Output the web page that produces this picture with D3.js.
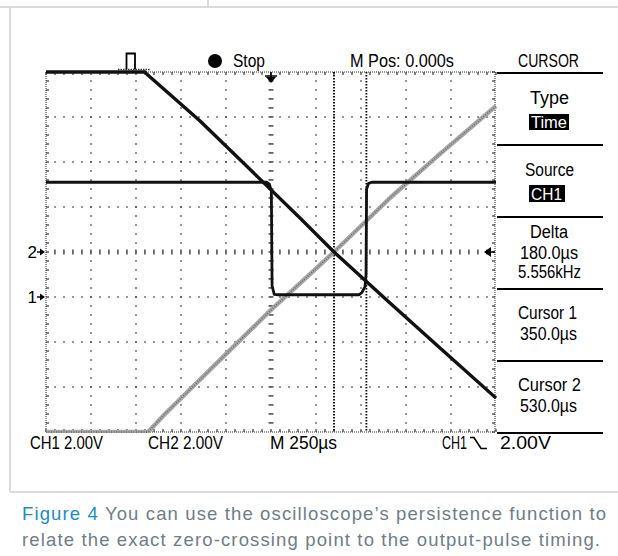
<!DOCTYPE html>
<html><head><meta charset="utf-8">
<script src="https://cdn.jsdelivr.net/npm/d3@7"></script>
<style>
html,body{margin:0;padding:0;background:#fff;}
svg{display:block;}
.scope{font-family:"Liberation Sans",Arial,Helvetica,sans-serif;}
.cap{font-family:"Liberation Sans",Arial,Helvetica,sans-serif;font-size:18.5px;}
</style></head><body>
<svg id="c" width="618" height="556"></svg>
<script>
// ---------------- data ----------------
// CH1: output pulse (volts, 2.00 V/div, ground at -1 div)
const ch1Time  = [-1250, -25, -8, 2, 6, 18, 40, 490, 505, 522, 528, 531, 542, 560, 1250];
const ch1Volts = [5.1, 5.1, 5.0, 4.7, 0.5, 0.12, 0.1, 0.1, 0.2, 0.45, 1.0, 4.8, 5.05, 5.1, 5.1];
// CH2: falling ramp (volts, 2.00 V/div, ground at 0 div)
const ch2FallTime  = [-1250, -700, -689, -394, -61, 161, 350, 661, 939, 1250];
const ch2FallVolts = [8.0, 8.0, 7.9, 5.82, 3.24, 1.51, 0.0, -2.27, -4.27, -6.49];
// CH2: rising ramp (persistence trace)
const ch2RiseTime  = [-1250, -690, -683, -589, -228, -6, 217, 350, 661, 939, 1250];
const ch2RiseVolts = [-8.0, -8.0, -8.0, -7.2, -4.36, -2.62, -0.98, 0.0, 2.4, 4.36, 6.49];
// cursors (µs) and trigger
const cursorTimes = [350, 530];
const triggerTime = 0, triggerLevel = 2.0;
// labels
const topLabels = ["Stop", "M Pos: 0.000s", "CURSOR"];
const menuLabels = ["Type", "Time", "Source", "CH1", "Delta", "180.0µs", "5.556kHz", "Cursor 1", "350.0µs", "Cursor 2", "530.0µs"];
const bottomLabels = ["CH1 2.00V", "CH2 2.00V", "M 250µs", "CH1", "2.00V"];
const captionLines = [
  ["Figure 4", " You can use the oscilloscope’s persistence function to"],
  ["", "relate the exact zero-crossing point to the output-pulse timing."]
];

// ---------------- scales ----------------
const X0 = 46, X1 = 496, Y0 = 72, Y1 = 432;
const xTime = d3.scaleLinear().domain([-1250, 1250]).range([X0, X1]);
const xDiv = d3.scaleLinear().domain([-5, 5]).range([X0, X1]);
const yDiv = d3.scaleLinear().domain([-4, 4]).range([Y1, Y0]);
const yCh1 = d3.scaleLinear().domain([-6, 10]).range([Y1, Y0]);
const yCh2 = d3.scaleLinear().domain([-8, 8]).range([Y1, Y0]);

const svg = d3.select("#c");

// ---------------- page frame ----------------
const frame = svg.append("g").attr("stroke", "#cfcfcf").attr("stroke-width", 1.5).attr("fill", "none");
frame.append("line").attr("x1", 0).attr("x2", 618).attr("y1", 7).attr("y2", 7);
frame.append("line").attr("x1", 208).attr("x2", 208).attr("y1", 0).attr("y2", 7);
frame.append("line").attr("x1", 10).attr("x2", 10).attr("y1", 7).attr("y2", 492);
frame.append("line").attr("x1", 10).attr("x2", 618).attr("y1", 492).attr("y2", 492);

// ---------------- graticule ----------------
const g = svg.append("g");
const minorX = d3.range(-25, 26).map(i => i / 5);
const minorY = d3.range(-20, 21).map(i => i / 5);
const dotCol = "#444";
[-3, -2, -1, 1, 2, 3].forEach(dv => {
  minorX.filter(m => m > -5 && m < 5).forEach(m => {
    g.append("rect").attr("x", xDiv(m) - 0.75).attr("y", yDiv(dv) - 0.75).attr("width", 1.5).attr("height", 1.5).attr("fill", dotCol);
  });
});
[-4, -3, -2, -1, 1, 2, 3, 4].forEach(dv => {
  minorY.filter(m => m > -4 && m < 4).forEach(m => {
    g.append("rect").attr("x", xDiv(dv) - 0.75).attr("y", yDiv(m) - 0.75).attr("width", 1.5).attr("height", 1.5).attr("fill", dotCol);
  });
});
minorX.filter(m => m > -5 && m < 5).forEach(m => {
  g.append("rect").attr("x", xDiv(m) - 1).attr("y", yDiv(0) - 2.5).attr("width", 1.8).attr("height", 5).attr("fill", "#666");
});
minorY.filter(m => m > -4 && m < 4).forEach(m => {
  g.append("rect").attr("x", xDiv(0) - 2.5).attr("y", yDiv(m) - 1).attr("width", 5).attr("height", 1.8).attr("fill", "#666");
});
const edge = g.append("g").attr("stroke", "#777").attr("stroke-width", 1.6).attr("stroke-dasharray", "1,1");
edge.append("line").attr("x1", X0).attr("x2", X1).attr("y1", Y0).attr("y2", Y0);
edge.append("line").attr("x1", X0).attr("x2", X1).attr("y1", Y1).attr("y2", Y1);
edge.append("line").attr("x1", X0).attr("x2", X0).attr("y1", Y0).attr("y2", Y1);
edge.append("line").attr("x1", X1 - 1).attr("x2", X1 - 1).attr("y1", Y0).attr("y2", Y1);
const tk = g.append("g").attr("stroke", "#333").attr("stroke-width", 1.2);
minorX.forEach(m => {
  tk.append("line").attr("x1", xDiv(m)).attr("x2", xDiv(m)).attr("y1", Y0).attr("y2", Y0 + 3);
  tk.append("line").attr("x1", xDiv(m)).attr("x2", xDiv(m)).attr("y1", Y1).attr("y2", Y1 - 3);
});
minorY.forEach(m => {
  tk.append("line").attr("x1", X0).attr("x2", X0 + 3).attr("y1", yDiv(m)).attr("y2", yDiv(m));
  tk.append("line").attr("x1", X1 - 1).attr("x2", X1 - 4).attr("y1", yDiv(m)).attr("y2", yDiv(m));
});

// ---------------- cursors ----------------
cursorTimes.forEach(t => {
  svg.append("line").attr("x1", xTime(t)).attr("x2", xTime(t)).attr("y1", Y0).attr("y2", Y1)
    .attr("stroke", "#000").attr("stroke-width", 1.8).attr("stroke-dasharray", "1.5,1.5");
});

// ---------------- traces ----------------
svg.append("clipPath").attr("id", "scr").append("rect").attr("x", X0 - 2).attr("y", Y0 - 2).attr("width", X1 - X0 + 3).attr("height", Y1 - Y0 + 3);
const tr = svg.append("g").attr("clip-path", "url(#scr)");
const clampV = (v, lo, hi) => Math.max(lo, Math.min(hi, v));
const lineOf = (ys, lo, hi) => d3.line().x(d => xTime(d[0])).y(d => ys(clampV(d[1], lo, hi))).curve(d3.curveLinear);
const rise = d3.zip(ch2RiseTime, ch2RiseVolts);
const fall = d3.zip(ch2FallTime, ch2FallVolts);
const pulse = d3.zip(ch1Time, ch1Volts);
tr.append("path").attr("d", lineOf(yCh2, -8, 8)(rise)).attr("fill", "none").attr("stroke", "#a8a8a8").attr("stroke-width", 4.5).attr("stroke-linejoin", "round");
tr.append("path").attr("d", lineOf(yCh2, -8, 8)(rise)).attr("fill", "none").attr("stroke", "#666").attr("stroke-width", 1.5).attr("stroke-dasharray", "1,1.5");
tr.append("path").attr("d", lineOf(yCh2, -8, 8)(fall)).attr("fill", "none").attr("stroke", "#111").attr("stroke-width", 3.4).attr("stroke-linejoin", "round");
tr.append("path").attr("d", lineOf(yCh1, -6, 10)(pulse))
  .attr("fill", "none").attr("stroke", "#111").attr("stroke-width", 2.8).attr("stroke-linejoin", "round");

// ---------------- markers ----------------
const tx = xTime(triggerTime);
svg.append("line").attr("x1", tx - 6).attr("x2", tx + 6).attr("y1", Y0 + 4).attr("y2", Y0 + 4).attr("stroke", "#000").attr("stroke-width", 1.5);
svg.append("path").attr("d", `M${tx - 5},${Y0 + 5}L${tx + 5},${Y0 + 5}L${tx},${Y0 + 11}Z`).attr("fill", "#000");
svg.append("line").attr("x1", tx).attr("x2", tx).attr("y1", Y0).attr("y2", Y0 + 5).attr("stroke", "#000").attr("stroke-width", 1.5);
const ty = yCh1(triggerLevel);
svg.append("path").attr("d", `M${X1 - 12},${ty}L${X1 - 5},${ty - 5}L${X1 - 5},${ty + 5}Z`).attr("fill", "#000");
svg.append("line").attr("x1", X1 - 6).attr("x2", X1 - 1).attr("y1", ty).attr("y2", ty).attr("stroke", "#000").attr("stroke-width", 1.5);
[["2", yCh2(0)], ["1", yCh1(0)]].forEach(([lab, y]) => {
  svg.append("text").attr("class", "scope").attr("x", 37).attr("y", y + 6).attr("text-anchor", "end").attr("font-size", 17).attr("fill", "#000").text(lab);
  svg.append("path").attr("d", `M${X0 - 1},${y}L${X0 - 6},${y - 3.5}L${X0 - 6},${y + 3.5}Z`).attr("fill", "#000");
  svg.append("line").attr("x1", X0 - 9).attr("x2", X0 - 5).attr("y1", y).attr("y2", y).attr("stroke", "#000").attr("stroke-width", 1.4);
});
// trigger-position icon
svg.append("path").attr("d", "M118,69.5H150").attr("stroke", "#333").attr("stroke-width", 1.5).attr("stroke-dasharray", "1.5,1").attr("fill", "none");
svg.append("path").attr("d", "M126.5,69.5V53.5H135V69.5").attr("stroke", "#000").attr("stroke-width", 1.8).attr("fill", "none");
svg.append("circle").attr("cx", 215).attr("cy", 61).attr("r", 7).attr("fill", "#000");

// ---------------- text ----------------
function label(txt, x, y, len, size, fill) {
  return svg.append("text").attr("class", "scope").attr("x", x).attr("y", y).attr("font-size", size || 18)
    .attr("textLength", len).attr("lengthAdjust", "spacingAndGlyphs").attr("fill", fill || "#000").text(txt);
}
label(topLabels[0], 233, 67, 32, 19);
label(topLabels[1], 350, 67, 104, 19);
label(topLabels[2], 518, 67, 61, 19);

[73, 145, 217, 289, 361, 433].forEach(y => {
  svg.append("line").attr("x1", 497).attr("x2", 603).attr("y1", y).attr("y2", y).attr("stroke", "#000").attr("stroke-width", 2);
});
svg.append("rect").attr("x", 529).attr("y", 114).attr("width", 40).attr("height", 16).attr("fill", "#000");
svg.append("rect").attr("x", 529).attr("y", 185).attr("width", 36).attr("height", 17).attr("fill", "#000");
label(menuLabels[0], 530, 104, 39);
label(menuLabels[1], 531, 128, 36, 17, "#fff");
label(menuLabels[2], 525, 176, 49);
label(menuLabels[3], 531, 200, 31, 17, "#fff");
label(menuLabels[4], 530, 238, 38);
label(menuLabels[5], 520, 259, 58);
label(menuLabels[6], 518, 278, 63);
label(menuLabels[7], 518, 319, 59);
label(menuLabels[8], 520, 340, 57);
label(menuLabels[9], 518, 391, 63);
label(menuLabels[10], 520, 412, 57);

label(bottomLabels[0], 30, 449, 73);
label(bottomLabels[1], 148, 449, 75);
label(bottomLabels[2], 270, 449, 67);
label(bottomLabels[3], 442, 449, 25);
label(bottomLabels[4], 500, 449, 51);
svg.append("path").attr("d", "M470,437.5H474L481,448.5H487").attr("stroke", "#000").attr("stroke-width", 1.6).attr("fill", "none");

// caption
const capY = [520, 546], capLen = [584, 578];
captionLines.forEach((ln, i) => {
  const t = svg.append("text").attr("class", "cap").attr("x", 22).attr("y", capY[i])
    .attr("textLength", capLen[i]).attr("lengthAdjust", "spacing").attr("fill", "#6d7d88");
  if (ln[0]) t.append("tspan").attr("fill", "#1a8dc8").text(ln[0]);
  t.append("tspan").text(ln[1]);
});
</script>
</body></html>
